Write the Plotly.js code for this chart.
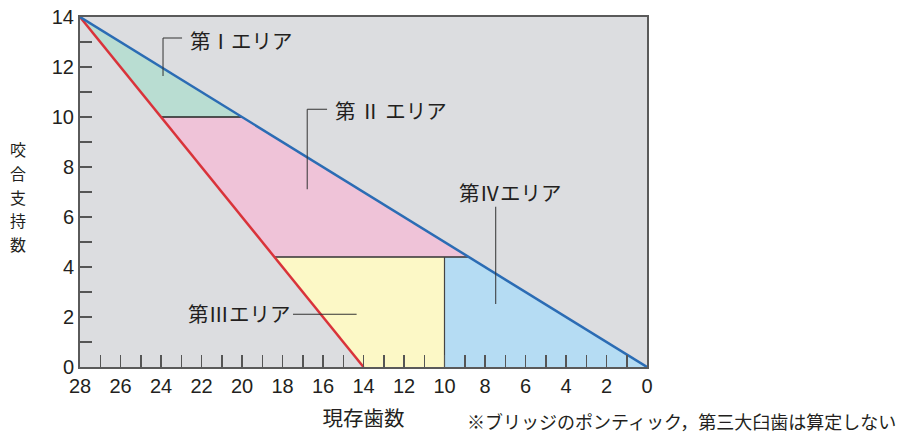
<!DOCTYPE html>
<html>
<head>
<meta charset="utf-8">
<script src="https://cdn.plot.ly/plotly-3.0.1.min.js"></script>
<style>html,body{margin:0;padding:0;background:#fff;}#chart{width:900px;height:440px;}</style>
</head>
<body>
<div id="chart"></div>
<script>
// ---- data ----
const blueLineX = [28, 0];      // 現存歯数
const blueLineY = [14, 0];      // 咬合支持数 (maximum)
const redLineX = [28, 14];
const redLineY = [14, 0];       // 咬合支持数 (minimum)

const areaIX = [28, 20, 24];
const areaIY = [14, 10, 10];
const areaIIX = [24, 20, 8.8, 18.4];
const areaIIY = [10, 10, 4.4, 4.4];
const areaIIIX = [18.4, 10, 10, 14];
const areaIIIY = [4.4, 4.4, 0, 0];
const areaIVX = [10, 8.8, 0, 10];
const areaIVY = [4.4, 4.4, 0, 0];

const boundary10X = [24, 20], boundary10Y = [10, 10];
const boundary44X = [18.4, 8.8], boundary44Y = [4.4, 4.4];
const boundaryTeethX = [10, 10], boundaryTeethY = [0, 4.4];

const areaLabels = ['第Ⅰエリア', '第 Ⅱ エリア', '第Ⅲエリア', '第Ⅳエリア'];
const xTitle = '現存歯数';
const yTitleChars = ['咬', '合', '支', '持', '数'];
const footnote = '※ブリッジのポンティック，第三大臼歯は算定しない';

const xTickVals = [28, 26, 24, 22, 20, 18, 16, 14, 12, 10, 8, 6, 4, 2, 0];
const yTickVals = [0, 2, 4, 6, 8, 10, 12, 14];

// ---- styling ----
const jp = '"Noto Sans CJK JP", "Noto Sans", sans-serif';
const num = '"Liberation Sans", Arial, sans-serif';
const txt = '#231f20';

function fillTrace(x, y, color) {
  return {x: x, y: y, type: 'scatter', mode: 'lines', fill: 'toself',
    fillcolor: color, line: {width: 0}, hoverinfo: 'skip', showlegend: false};
}
function lineTrace(x, y, color, w) {
  return {x: x, y: y, type: 'scatter', mode: 'lines',
    line: {color: color, width: w}, hoverinfo: 'skip', showlegend: false};
}

const traces = [
  fillTrace(areaIX, areaIY, '#b9ddd2'),
  fillTrace(areaIIX, areaIIY, '#efc3d8'),
  fillTrace(areaIIIX, areaIIIY, '#fcf8c6'),
  fillTrace(areaIVX, areaIVY, '#b5dcf3'),
  lineTrace(boundary10X, boundary10Y, '#222', 1.5),
  lineTrace(boundary44X, boundary44Y, '#333', 1.5),
  lineTrace(boundaryTeethX, boundaryTeethY, '#444', 1.2),
  lineTrace(redLineX, redLineY, '#d9333a', 2.5),
  lineTrace(blueLineX, blueLineY, '#2b6cb4', 2.5)
];

function leader(x0, y0, x1, y1) {
  return {type: 'line', xref: 'x', yref: 'y', x0: x0, y0: y0, x1: x1, y1: y1,
    line: {color: '#333', width: 1}};
}

const shapes = [
  leader(23.9, 11.64, 23.9, 13.16), leader(23.9, 13.16, 22.96, 13.16),
  leader(16.78, 7.11, 16.78, 10.31), leader(16.78, 10.31, 15.8, 10.31),
  leader(17.48, 2.11, 14.34, 2.11),
  leader(7.47, 6.41, 7.47, 2.52)
];

const lblSize = 20.5;
const annotations = [
  {x: 22.67, y: 13.08, xref: 'x', yref: 'y', text: areaLabels[0], showarrow: false, xanchor: 'left', yanchor: 'middle', font: {family: jp, size: lblSize, color: txt}},
  {x: 15.51, y: 10.28, xref: 'x', yref: 'y', text: areaLabels[1], showarrow: false, xanchor: 'left', yanchor: 'middle', font: {family: jp, size: lblSize, color: txt}},
  {x: 17.48, y: 2.16, xref: 'x', yref: 'y', text: areaLabels[2], showarrow: false, xanchor: 'right', yanchor: 'middle', font: {family: jp, size: lblSize, color: txt}},
  {x: 9.4, y: 7.01, xref: 'x', yref: 'y', text: areaLabels[3], showarrow: false, xanchor: 'left', yanchor: 'middle', font: {family: jp, size: lblSize, color: txt}},
  {x: 0.679, y: -0.154, xref: 'paper', yref: 'paper', text: footnote, showarrow: false, xanchor: 'left', yanchor: 'middle', font: {family: jp, size: 18, color: txt}}
];
const yTitleSpacing = 23.6;
yTitleChars.forEach(function (c, i) {
  annotations.push({x: -0.109, y: (367 - (196.5 + (i - 2) * yTitleSpacing)) / 350, xref: 'paper', yref: 'paper',
    text: c, showarrow: false, xanchor: 'center', yanchor: 'middle', borderpad: 0,
    font: {family: jp, size: 16, color: txt}});
});

const layout = {
  width: 900, height: 440,
  margin: {l: 80, r: 253, t: 17, b: 73},
  paper_bgcolor: '#ffffff', plot_bgcolor: '#dcdde0',
  showlegend: false,
  xaxis: {
    range: [28, 0], autorange: false, tickmode: 'array', tickvals: xTickVals,
    ticks: 'inside', ticklen: 12, tickwidth: 1.5, tickcolor: '#555',
    minor: {dtick: 1, tick0: 0, ticks: 'inside', ticklen: 12, tickwidth: 1.5, tickcolor: '#555', showgrid: false},
    showgrid: false, zeroline: false, showline: true, mirror: true, linecolor: '#5a5a5a', linewidth: 2,
    tickfont: {family: num, size: 20, color: txt},
    title: {text: xTitle, font: {family: jp, size: 20.5, color: txt}, standoff: 16}
  },
  yaxis: {
    range: [0, 14], autorange: false, tickmode: 'array', tickvals: yTickVals,
    ticks: 'inside', ticklen: 12, tickwidth: 1.5, tickcolor: '#555',
    minor: {dtick: 1, tick0: 0, ticks: 'inside', ticklen: 12, tickwidth: 1.5, tickcolor: '#555', showgrid: false},
    showgrid: false, zeroline: false, showline: true, mirror: true, linecolor: '#5a5a5a', linewidth: 2,
    tickfont: {family: num, size: 20, color: txt}
  },
  shapes: shapes,
  annotations: annotations
};

Plotly.newPlot('chart', traces, layout, {displayModeBar: false, staticPlot: true});
</script>
</body>
</html>
